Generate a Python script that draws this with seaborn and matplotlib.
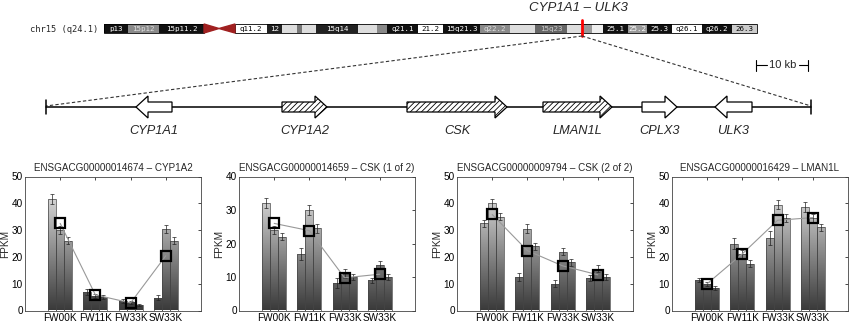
import numpy as np
import pandas as pd
import seaborn as sns
import matplotlib
matplotlib.use("Agg")
import matplotlib.pyplot as plt
from matplotlib.patches import Polygon, Rectangle
from matplotlib.colors import LinearSegmentedColormap

sns.set_theme(style="white")
plt.rcParams['font.family'] = ['Liberation Sans', 'DejaVu Sans']
plt.rcParams['hatch.linewidth'] = 0.6

# ---- data ----
groups = ['FW00K', 'FW11K', 'FW33K', 'SW33K']
reps = ['r1', 'r2', 'r3']

titles = ['ENSGACG00000014674 \u2013 CYP1A2',
          'ENSGACG00000014659 \u2013 CSK (1 of 2)',
          'ENSGACG00000009794 \u2013 CSK (2 of 2)',
          'ENSGACG00000016429 \u2013 LMAN1L']
ymax = [50, 40, 50, 50]

cyp1a2_fpkm = [[41.5, 30.0, 26.0], [7.0, 5.5, 5.0], [3.5, 3.0, 2.0], [4.8, 30.5, 26.0]]
cyp1a2_err = [[1.8, 1.5, 1.3], [1.2, 0.8, 0.7], [0.8, 0.7, 0.5], [0.8, 1.5, 1.3]]
csk1_fpkm = [[32.0, 24.0, 22.0], [17.0, 30.0, 24.5], [8.3, 11.0, 10.0], [9.0, 13.5, 10.0]]
csk1_err = [[1.5, 1.2, 1.0], [1.8, 1.6, 1.4], [1.5, 1.3, 0.8], [0.8, 1.2, 0.9]]
csk2_fpkm = [[32.5, 40.0, 35.0], [12.5, 30.5, 24.0], [10.0, 22.0, 18.0], [12.0, 15.5, 12.5]]
csk2_err = [[1.3, 1.6, 1.4], [1.6, 1.6, 1.3], [1.4, 1.3, 1.3], [1.1, 1.3, 1.0]]
lman1l_fpkm = [[11.5, 10.0, 8.5], [25.0, 21.0, 17.5], [27.0, 39.5, 34.5], [38.5, 34.5, 31.0]]
lman1l_err = [[0.8, 0.8, 0.7], [2.0, 1.4, 1.2], [2.5, 1.7, 1.5], [1.8, 1.5, 1.3]]

panel_fpkm = [cyp1a2_fpkm, csk1_fpkm, csk2_fpkm, lman1l_fpkm]
panel_err = [cyp1a2_err, csk1_err, csk2_err, lman1l_err]

# chromosome 15 bands (pixel coords of the ideogram), label, fill, text colour
bands = [(104, 128, 'p13', '#111111', 'white'),
         (128, 159, '15p12', '#8a8a8a', '#e0e0e0'),
         (159, 204, '15p11.2', '#111111', 'white'),
         (235, 267, 'q11.2', 'white', 'black'),
         (267, 282, '12', '#222222', 'white'),
         (282, 297, '', '#dddddd', 'black'),
         (297, 302, '', '#777777', 'black'),
         (302, 316, '', '#dddddd', 'black'),
         (316, 358, '15q14', '#222222', 'white'),
         (358, 377, '', '#dddddd', 'black'),
         (377, 387, '', '#888888', 'black'),
         (387, 418, 'q21.1', '#111111', 'white'),
         (418, 443, '21.2', 'white', 'black'),
         (443, 480, '15q21.3', '#111111', 'white'),
         (480, 510, 'q22.2', '#8a8a8a', '#e0e0e0'),
         (510, 535, '', '#dddddd', 'black'),
         (535, 567, '15q23', '#666666', '#cccccc'),
         (567, 583, '', '#dddddd', 'black'),
         (583, 592, '', '#999999', 'black'),
         (592, 603, '', '#eeeeee', 'black'),
         (603, 628, '25.1', '#111111', 'white'),
         (628, 647, '25.2', '#999999', 'white'),
         (647, 672, '25.3', '#111111', 'white'),
         (672, 702, 'q26.1', 'white', 'black'),
         (702, 732, 'q26.2', '#111111', 'white'),
         (732, 757, '26.3', '#cccccc', 'black')]

# genes along the locus (pixel coords), strand, hatched
gene_names = ['CYP1A1', 'CYP1A2', 'CSK', 'LMAN1L', 'CPLX3', 'ULK3']
gene_start = [136, 282, 407, 543, 642, 715]
gene_end = [172, 327, 507, 612, 677, 752]
gene_strand = [-1, 1, 1, 1, 1, -1]
gene_hatched = [False, True, True, True, False, False]

fig = plt.figure(figsize=(8.51, 3.23), dpi=100)

# ---- top schematic ----
ov = fig.add_axes([0, 0, 1, 1])
ov.set_xlim(0, 851)
ov.set_ylim(323, 0)
ov.axis('off')

y0, y1 = 24, 33
for x0, x1, lab, fc, tc in bands:
    ov.add_patch(Rectangle((x0, y0), x1 - x0, y1 - y0, facecolor=fc, edgecolor='none'))
    if lab:
        ov.text((x0 + x1) / 2, (y0 + y1) / 2 + 0.3, lab, fontsize=5.4, color=tc,
                family='DejaVu Sans Mono', ha='center', va='center')
ov.add_patch(Rectangle((104, y0), 100, y1 - y0, fill=False, edgecolor='black', lw=0.6))
ov.add_patch(Rectangle((235, y0), 522, y1 - y0, fill=False, edgecolor='black', lw=0.6))
cm = (y0 + y1) / 2
ov.add_patch(Polygon([(204, y0), (204, y1), (219, cm)], color='#a02020'))
ov.add_patch(Polygon([(235, y0), (235, y1), (219, cm)], color='#a02020'))
ov.text(98, cm + 0.5, 'chr15 (q24.1)', fontsize=6.3, family='DejaVu Sans Mono',
        ha='right', va='center')
ov.plot([582, 582], [20, 36], color='red', lw=2)
ov.text(578, 8, 'CYP1A1 \u2013 ULK3', fontsize=9.5, style='italic', ha='center', va='center')

# dashed zoom lines
ov.plot([582, 46], [36, 106], ls=(0, (3, 2)), color='#333333', lw=0.8)
ov.plot([582, 811], [36, 106], ls=(0, (3, 2)), color='#333333', lw=0.8)

# scale bar
ov.plot([756, 767], [65, 65], color='black', lw=0.8)
ov.plot([799, 808], [65, 65], color='black', lw=0.8)
ov.plot([756, 756], [60, 71], color='black', lw=0.8)
ov.plot([808, 808], [60, 71], color='black', lw=0.8)
ov.text(783, 65.5, '10 kb', fontsize=8, ha='center', va='center')

# locus line
gy = 107
ov.plot([46, 811], [gy, gy], color='black', lw=1.1, zorder=1)
ov.plot([46, 46], [100, 114], color='black', lw=1.1)
ov.plot([811, 811], [100, 114], color='black', lw=1.1)

hl, bh, hh = 12, 5, 11
for name, s, e, strand, hat in zip(gene_names, gene_start, gene_end, gene_strand, gene_hatched):
    if strand > 0:
        pts = [(s, gy - bh), (e - hl, gy - bh), (e - hl, gy - hh), (e, gy),
               (e - hl, gy + hh), (e - hl, gy + bh), (s, gy + bh)]
    else:
        pts = [(e, gy - bh), (s + hl, gy - bh), (s + hl, gy - hh), (s, gy),
               (s + hl, gy + hh), (s + hl, gy + bh), (e, gy + bh)]
    ov.add_patch(Polygon(pts, facecolor='white', edgecolor='black', lw=0.9,
                         hatch='//////' if hat else None, zorder=2))
    ov.text((s + e) / 2, 131, name, fontsize=9.2, style='italic', ha='center', va='center')

# ---- bar panels ----
grad = LinearSegmentedColormap.from_list('g', ['#3a3a3a', '#f4f4f4'])
gimg = np.linspace(0, 1, 256).reshape(-1, 1)
lefts = [25, 239, 457, 672]

for k in range(4):
    ax = fig.add_axes([lefts[k] / 851, 12.5 / 323, 176 / 851, 134 / 323])
    vals = panel_fpkm[k]
    errs = panel_err[k]
    df = pd.DataFrame([(g, r, vals[i][j]) for i, g in enumerate(groups)
                       for j, r in enumerate(reps)], columns=['group', 'rep', 'fpkm'])
    sns.barplot(data=df, x='group', y='fpkm', hue='rep', ax=ax, errorbar=None,
                width=0.68, palette=['#888888'] * 3, legend=False, gap=0,
                edgecolor='#444444', linewidth=0.5)
    top = ymax[k]
    bar_conts = list(ax.containers)
    for j, cont in enumerate(bar_conts):
        for i, bar in enumerate(cont.patches):
            bx, bw, bhgt = bar.get_x(), bar.get_width(), bar.get_height()
            im = ax.imshow(gimg, extent=(bx, bx + bw, 0, top), origin='lower',
                           aspect='auto', cmap=grad, vmin=0, vmax=1, zorder=1.5)
            im.set_clip_path(bar)
            bar.set_facecolor('none')
            bar.set_zorder(2)
            ax.errorbar(bx + bw / 2, bhgt, yerr=errs[i][j], color='#222222',
                        lw=0.5, capsize=1.2, capthick=0.5, zorder=3)
    means = np.mean(np.array(vals), axis=1)
    ax.plot(np.arange(4), means, color='#999999', lw=0.8, zorder=4,
            marker='s', markersize=6.5, mfc='none', mec='black', mew=1.6)
    ax.set_xlim(-1, 4)
    ax.set_ylim(0, top)
    ax.set_yticks(np.arange(0, top + 1, 10))
    ax.set_xlabel('')
    ax.set_ylabel('FPKM', fontsize=7.2, labelpad=1)
    ax.set_title(titles[k], fontsize=7.1, pad=4)
    ax.tick_params(direction='in', top=True, right=True, length=2.5, width=0.5,
                   labelsize=7.2, pad=1.5, colors='black')
    for sp in ax.spines.values():
        sp.set_linewidth(0.6)
        sp.set_color('#444444')

fig.savefig('out.png', dpi=100)
